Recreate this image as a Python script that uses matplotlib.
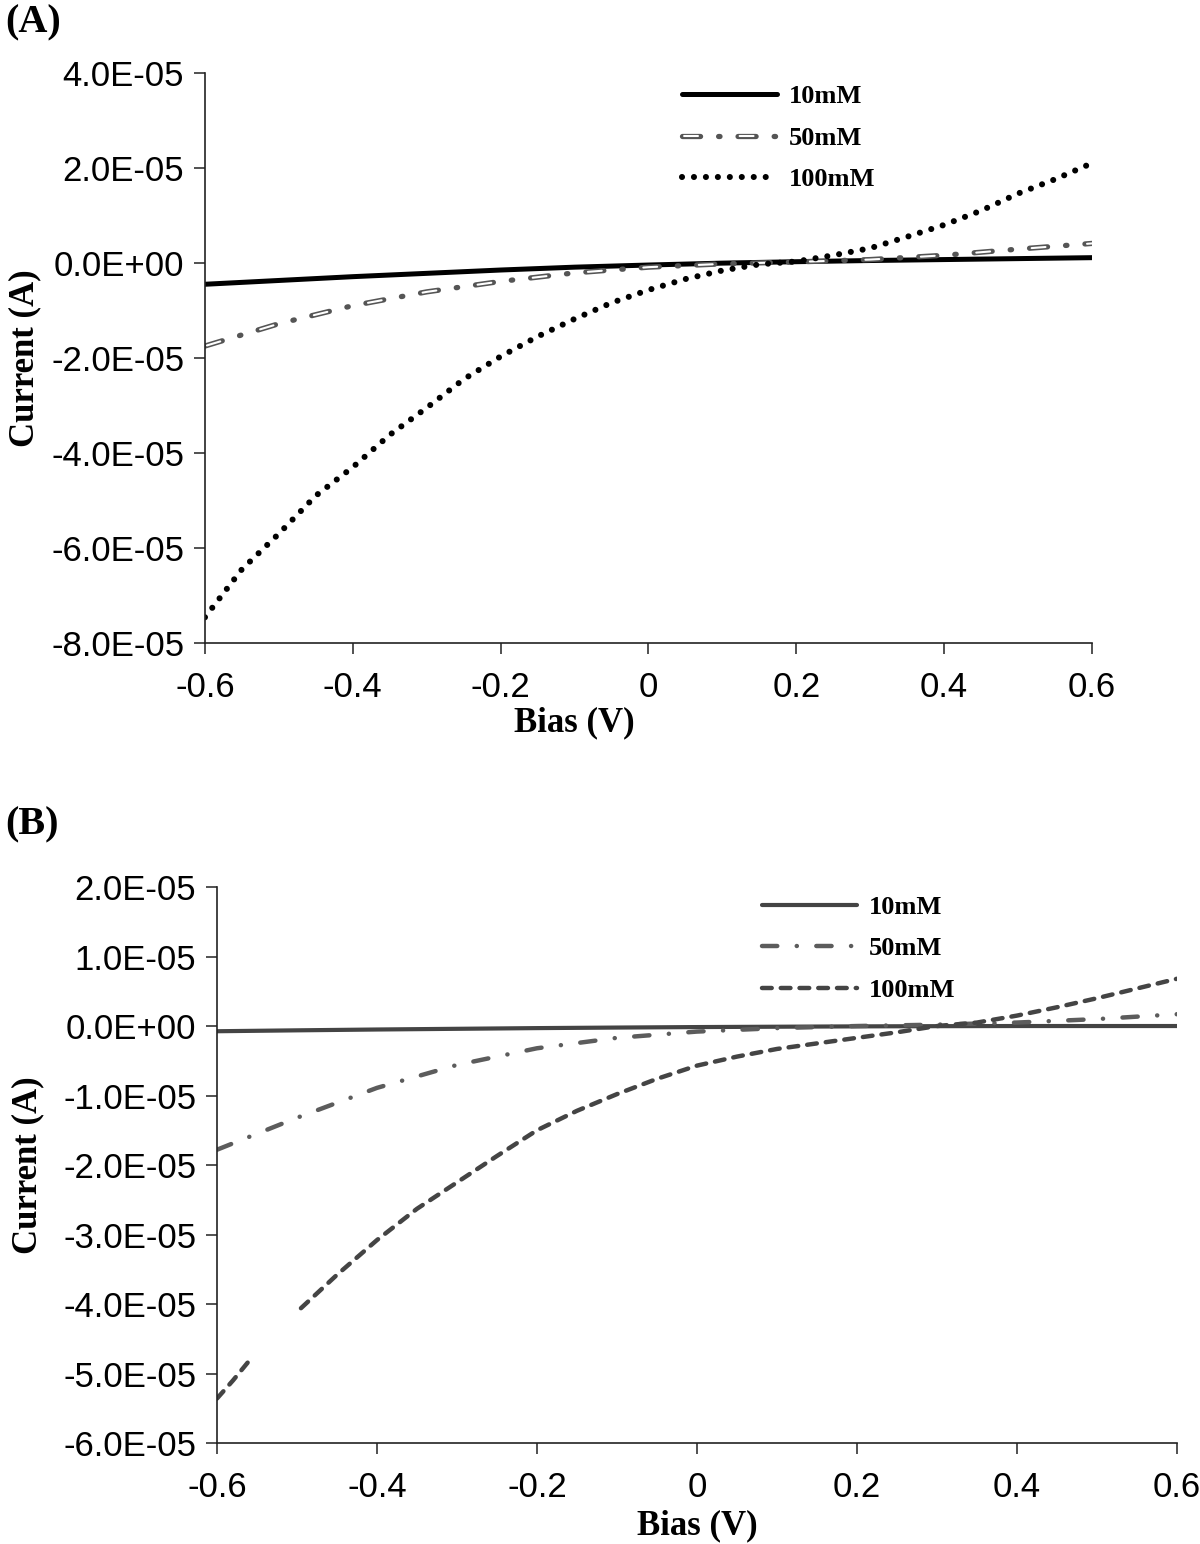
import numpy as np
import matplotlib
matplotlib.use("Agg")
import matplotlib.pyplot as plt
from matplotlib.ticker import FuncFormatter, MultipleLocator
from matplotlib.legend_handler import HandlerTuple

plt.rcParams['lines.scale_dashes'] = False

# ---- panel A data (bias V, current A)
bias_a = [-0.6, -0.5, -0.4, -0.3, -0.2, -0.1, 0.0, 0.1, 0.2, 0.3, 0.4, 0.5, 0.6]
a_10mM = [-4.5e-6, -3.7e-6, -2.9e-6, -2.2e-6, -1.5e-6, -0.9e-6, -0.45e-6,
          -0.05e-6, 0.25e-6, 0.5e-6, 0.7e-6, 0.9e-6, 1.1e-6]
a_50mM = [-1.75e-5, -1.28e-5, -9.0e-6, -6.1e-6, -3.9e-6, -2.1e-6, -0.9e-6,
          -0.2e-6, 0.2e-6, 0.7e-6, 1.6e-6, 2.9e-6, 4.1e-6]
bias_a100 = [-0.6, -0.55, -0.5, -0.45, -0.4, -0.35, -0.3, -0.25, -0.2, -0.15, -0.1,
             -0.05, 0.0, 0.05, 0.1, 0.15, 0.2, 0.25, 0.3, 0.35, 0.4, 0.45, 0.5, 0.55, 0.6]
a_100mM = [-7.46e-5, -6.45e-5, -5.7e-5, -4.9e-5, -4.3e-5, -3.62e-5, -3.05e-5, -2.45e-5,
           -1.97e-5, -1.55e-5, -1.18e-5, -8.4e-6, -5.7e-6, -3.4e-6, -1.6e-6, -0.3e-6,
           0.3e-6, 1.6e-6, 3.1e-6, 5.5e-6, 8.0e-6, 11.0e-6, 14.6e-6, 17.6e-6, 21.0e-6]

# ---- panel B data
bias_b = [-0.6, -0.5, -0.4, -0.3, -0.2, -0.1, 0.0, 0.1, 0.2, 0.3, 0.4, 0.5, 0.6]
b_10mM = [-0.75e-6, -0.62e-6, -0.5e-6, -0.4e-6, -0.3e-6, -0.22e-6, -0.15e-6,
          -0.1e-6, -0.05e-6, -0.02e-6, 0.0, 0.0, 0.0]
b_50mM = [-1.78e-5, -1.32e-5, -8.9e-6, -5.6e-6, -3.2e-6, -1.7e-6, -0.8e-6,
          -0.3e-6, 0.0, 0.2e-6, 0.5e-6, 1.0e-6, 1.7e-6]
bias_b100 = [-0.6, -0.58, -0.555, -0.525, -0.495, -0.45, -0.4, -0.35, -0.3, -0.25, -0.2,
             -0.15, -0.1, -0.05, 0.0, 0.05, 0.1, 0.15, 0.2, 0.25, 0.3, 0.35, 0.4, 0.45,
             0.5, 0.55, 0.6]
b_100mM = [-5.36e-5, -5.1e-5, -4.75e-5, np.nan, -4.06e-5, -3.58e-5, -3.08e-5, -2.63e-5,
           -2.25e-5, -1.87e-5, -1.5e-5, -1.22e-5, -0.98e-5, -0.76e-5, -0.57e-5, -0.44e-5,
           -0.33e-5, -0.25e-5, -0.17e-5, -0.09e-5, 0.0, 0.05e-5, 0.15e-5, 0.27e-5,
           0.4e-5, 0.54e-5, 0.68e-5]

labels = ["10mM", "50mM", "100mM"]

sans = "Liberation Sans"
serif = "Liberation Serif"

fig = plt.figure(figsize=(12, 15.44), dpi=100)
axA = fig.add_axes([0.1708, 0.5836, 0.7392, 0.3692])
axB = fig.add_axes([0.1808, 0.0654, 0.8, 0.3601])

sci = FuncFormatter(lambda v, p: f"{v:.1E}")
plain = FuncFormatter(lambda v, p: f"{v:g}" if abs(v) > 1e-9 else "0")


def style_axes(ax, ymin, ymax, ystep):
    ax.set_xlim(-0.6, 0.6)
    ax.set_ylim(ymin, ymax)
    ax.xaxis.set_major_locator(MultipleLocator(0.2))
    ax.yaxis.set_major_locator(MultipleLocator(ystep))
    ax.xaxis.set_major_formatter(plain)
    ax.yaxis.set_major_formatter(sci)
    for s in ["top", "right"]:
        ax.spines[s].set_visible(False)
    for s in ["left", "bottom"]:
        ax.spines[s].set_linewidth(1.2)
        ax.spines[s].set_color("#222222")
    ax.tick_params(direction="out", length=8, width=1.1, color="#222222",
                   labelsize=25)
    ax.tick_params(axis="x", pad=12)
    ax.tick_params(axis="y", pad=7)
    for t in ax.get_xticklabels() + ax.get_yticklabels():
        t.set_fontfamily(sans)


leg_kw = dict(loc="upper left", bbox_transform=fig.transFigure, frameon=False,
              borderpad=0, borderaxespad=0, handlelength=3.6, handletextpad=0.45,
              labelspacing=0.68, prop={"family": serif, "weight": "bold", "size": 19})

# ---- panel A
la1, = axA.plot(bias_a, a_10mM, color="black", lw=3.6, solid_capstyle="round")
la2g, = axA.plot(bias_a, a_50mM, color="#555555", lw=3.8,
                 linestyle=(0, (13, 13, 1, 13)), dash_capstyle="round")
la2w, = axA.plot(bias_a, a_50mM, color="white", lw=1.5,
                 linestyle=(38.5, (10, 30)), dash_capstyle="round")
la3, = axA.plot(bias_a100, a_100mM, color="black", lw=4.4,
                linestyle=(0, (0.01, 8.6)), dash_capstyle="round")
style_axes(axA, -8e-5, 4e-5, 2e-5)
axA.set_xlabel("Bias (V)", fontfamily=serif, fontweight="bold", fontsize=25)
axA.xaxis.set_label_coords(0.416, -0.112)
axA.set_ylabel("Current (A)", fontfamily=serif, fontweight="bold", fontsize=25)
axA.yaxis.set_label_coords(-0.185, 0.5)
axA.legend([la1, (la2g, la2w), la3], labels, handler_map={tuple: HandlerTuple(ndivide=1)},
           bbox_to_anchor=(0.568, 0.945), **leg_kw)

# ---- panel B
lb1, = axB.plot(bias_b, b_10mM, color="#444444", lw=3.0, solid_capstyle="round")
lb2, = axB.plot(bias_b, b_50mM, color="#5c5c5c", lw=3.2,
                linestyle=(0, (11, 14, 0.1, 14)), dash_capstyle="round")
lb3, = axB.plot(bias_b100, b_100mM, color="#444444", lw=3.2,
                linestyle=(0, (7, 6.5)), dash_capstyle="round")
style_axes(axB, -6e-5, 2e-5, 1e-5)
axB.set_xlabel("Bias (V)", fontfamily=serif, fontweight="bold", fontsize=25)
axB.xaxis.set_label_coords(0.5, -0.12)
axB.set_ylabel("Current (A)", fontfamily=serif, fontweight="bold", fontsize=25)
axB.yaxis.set_label_coords(-0.18, 0.5)
axB.legend([lb1, lb2, lb3], labels, bbox_to_anchor=(0.635, 0.42), **leg_kw)

fig.text(0.004, 0.985, "(A)", fontfamily=serif, fontweight="bold", fontsize=29, va="center")
fig.text(0.004, 0.466, "(B)", fontfamily=serif, fontweight="bold", fontsize=29, va="center")

fig.savefig("out.png", dpi=100)
